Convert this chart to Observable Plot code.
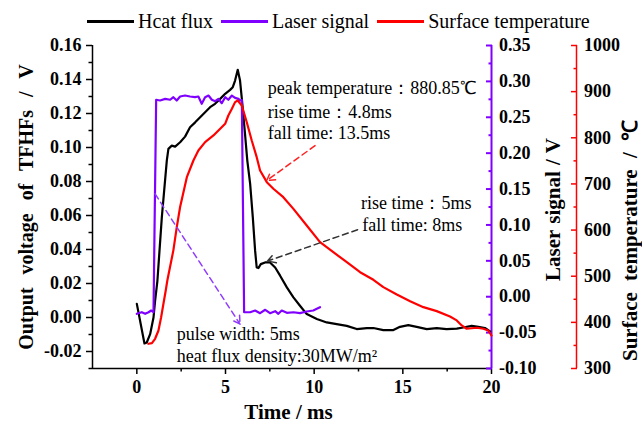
<!DOCTYPE html>
<html><head><meta charset="utf-8">
<script src="https://cdn.jsdelivr.net/npm/d3@7"></script>
<script src="https://cdn.jsdelivr.net/npm/@observablehq/plot@0.6"></script>
<style>
html,body{margin:0;padding:0;background:#fff;}
#wrap{width:642px;height:428px;overflow:hidden;font-family:'Liberation Serif','Times New Roman',serif;}
#legend{height:34px;box-sizing:border-box;padding-top:9px;padding-left:87px;display:flex;align-items:center;font-size:20px;color:#000;}
#legend .item{display:flex;align-items:center;margin-right:8px;height:25px;}
#legend .sw{width:47px;height:3px;margin-right:4px;}
#legend .lab{line-height:25px;white-space:nowrap;}
svg{display:block;}
</style></head><body><div id="wrap"><div id="legend"></div><div id="chart"></div></div>
<script>
// ---- data ----
const timeHeat = [0,0.43,0.56,0.75,0.94,1.03,1.16,1.41,1.69,1.78,1.97,2.16,2.44,2.72,3.0,3.29,3.57,3.85,4.13,4.41,4.70,4.98,5.26,5.41,5.54,5.69,5.82,5.95,6.10,6.23,6.39,6.54,6.67,6.76,6.86,6.99,7.23,7.51,7.80,8.08,8.46,8.83,9.2,9.58,10.15,10.71,11.27,11.84,12.4,12.97,13.34,13.9,14.47,14.84,15.31,15.78,16.35,16.91,17.47,18.04,18.41,18.88,19.26,19.63,19.92];
const heatFlux = [0.008,-0.0153,-0.0147,-0.0098,0.0,0.0098,0.0216,0.059,0.0923,0.0992,0.1011,0.1005,0.1031,0.1064,0.1119,0.1148,0.1178,0.1207,0.1237,0.1257,0.1286,0.1316,0.1339,0.1355,0.1394,0.1457,0.1394,0.1257,0.108,0.0923,0.0786,0.0589,0.0393,0.0294,0.0291,0.0314,0.0324,0.0324,0.0294,0.0246,0.0177,0.0118,0.0069,0.002,-0.0009,-0.0029,-0.0039,-0.0049,-0.0068,-0.0062,-0.0062,-0.0074,-0.0074,-0.0055,-0.0045,-0.0055,-0.0068,-0.0062,-0.0068,-0.0065,-0.0059,-0.0049,-0.0055,-0.0062,-0.0082];

const timeLaser = [0,0.28,0.47,0.66,0.81,0.94,1.09,1.31,1.60,1.88,2.06,2.25,2.44,2.72,3.00,3.28,3.47,3.66,3.85,4.04,4.23,4.42,4.60,4.79,4.98,5.16,5.36,5.54,5.73,5.82,5.92,6.05,6.39,6.67,6.95,7.24,7.51,7.80,7.98,8.17,8.46,8.83,9.20,9.58,9.95,10.15,10.33];
const laserSignal = [-0.0238,-0.0216,-0.0238,-0.0216,-0.0192,-0.0216,0.2744,0.2734,0.2757,0.2744,0.2780,0.2734,0.2789,0.2803,0.2789,0.2780,0.2789,0.2688,0.2780,0.2803,0.2744,0.2724,0.2757,0.2696,0.2780,0.2744,0.2803,0.2771,0.2757,0.2734,0.2740,-0.0216,-0.0216,-0.0192,-0.0229,-0.0182,-0.0229,-0.0201,-0.0238,-0.0192,-0.0224,-0.0216,-0.0229,-0.0206,-0.0192,-0.0168,-0.0146];

const timeTemp = [0.65,0.85,1.03,1.22,1.37,1.5,1.63,1.72,2.06,2.25,2.44,2.82,3.19,3.47,3.85,4.32,4.70,4.98,5.16,5.36,5.54,5.69,5.92,6.20,6.48,6.76,6.95,7.33,7.7,8.26,8.83,9.58,10.33,11.08,11.84,12.59,13.34,13.9,14.66,15.41,16.16,16.91,17.66,18.04,18.32,18.6,19.17,19.54,19.82,20];
const surfaceTemp = [353.6,355,364.4,382.4,411.2,440.3,469.1,490.8,556,606,650,714.6,750.8,772.5,790.5,805,819.5,830.3,848.3,862.8,877.3,880.85,870,833.8,794.2,758,729,703.8,689.5,671.3,646,610,573.8,552.1,530.4,508.7,492.2,476.3,460.4,445.9,433,424.3,412.8,404.2,393.3,386.1,388.3,386.1,382.4,371.5];

const seriesNames = ["Hcat flux", "Laser signal", "Surface temperature"];
const seriesColors = ["#000000", "#8000ff", "#ff0000"];

const xTicks = [0, 5, 10, 15, 20];
const xMinor = [2.5, 7.5, 12.5, 17.5];
const leftTicks = [-0.02, 0, 0.02, 0.04, 0.06, 0.08, 0.10, 0.12, 0.14, 0.16];
const leftMinor = [-0.03, -0.01, 0.01, 0.03, 0.05, 0.07, 0.09, 0.11, 0.13, 0.15];
const laserTicks = [-0.10, -0.05, 0, 0.05, 0.10, 0.15, 0.20, 0.25, 0.30, 0.35];
const laserMinor = [-0.075, -0.025, 0.025, 0.075, 0.125, 0.175, 0.225, 0.275, 0.325];
const tempTicks = [300, 400, 500, 600, 700, 800, 900, 1000];
const tempMinor = [350, 450, 550, 650, 750, 850, 950];

const xTitle = "Time / ms";
const yTitleLeft = "Output voltage of TFHFs / V";
const yTitleLaser = "Laser signal / V";
const yTitleTemp = "Surface temperature / ℃";

const annoText = ["peak temperature：880.85℃", "rise time：4.8ms", "fall time: 13.5ms", "rise time：5ms", "fall time: 8ms", "pulse width: 5ms", "heat flux density:30MW/m²"];
const annoX = [7.38, 7.38, 7.38, 12.64, 12.71, 2.25, 2.25];
const annoY = [0.1347, 0.1207, 0.1082, 0.0671, 0.054, -0.0098, -0.0226];

const arrowX1 = [10.05, 12.45, 1.03];
const arrowY1 = [0.1011, 0.0516, 0.0727];
const arrowX2 = [7.32, 7.37, 5.82];
const arrowY2 = [0.0805, 0.0332, -0.0039];
const arrowColors = ["#ff2020", "#333333", "#8f3cff"];

// ---- build ----
const FONT = "'Liberation Serif','Times New Roman',serif";
const yDomain = [-0.03, 0.16];
const laserToY = d3.scaleLinear([-0.10, 0.35], yDomain);
const tempToY = d3.scaleLinear([300, 1000], yDomain);
const r2 = v => (Math.round(v * 100) / 100).toFixed(2);

const heatData = timeHeat.map((t, i) => ({t, v: heatFlux[i]}));
const laserData = timeLaser.map((t, i) => ({t, v: laserSignal[i]}));
const tempData = timeTemp.map((t, i) => ({t, v: surfaceTemp[i]}));
const annos = annoText.map((s, i) => ({s, x: annoX[i], y: annoY[i]}));
const arrows = arrowX1.map((x, i) => ({x1: x, y1: arrowY1[i], x2: arrowX2[i], y2: arrowY2[i], c: arrowColors[i]}));

// legend
const leg = document.getElementById("legend");
seriesNames.forEach((n, i) => {
  const it = document.createElement("div"); it.className = "item";
  const sw = document.createElement("div"); sw.className = "sw"; sw.style.background = seriesColors[i];
  const lb = document.createElement("span"); lb.className = "lab"; lb.textContent = n;
  it.appendChild(sw); it.appendChild(lb); leg.appendChild(it);
});

const bold = {fontSize: 18, fontWeight: "bold"};
const title = {text: d => d, rotate: -90, textAnchor: "middle", lineAnchor: "middle", fontWeight: "bold", fill: "black"};
const plot = Plot.plot({
  width: 642, height: 394,
  marginTop: 11, marginBottom: 60, marginLeft: 92, marginRight: 151,
  x: {domain: [-2.5, 20], axis: null, label: null},
  y: {domain: yDomain, axis: null, label: null},
  style: {fontFamily: FONT, background: "white", overflow: "visible"},
  marks: [
    Plot.ruleX([-2.5], {stroke: "black", strokeWidth: 1.5}),
    Plot.ruleY([-0.03], {stroke: "black", strokeWidth: 1.5}),
    Plot.ruleX([20], {stroke: seriesColors[1], strokeWidth: 2}),
    Plot.ruleX([20], {stroke: seriesColors[2], strokeWidth: 1.5, dx: 85}),
    Plot.axisY(leftTicks, {anchor: "left", label: null, tickSize: 6, tickPadding: 5, tickFormat: r2, strokeWidth: 1.5, fill: "black", ...bold}),
    Plot.axisY(leftMinor, {anchor: "left", label: null, tickSize: 3.5, tickFormat: () => "", strokeWidth: 1.5}),
    Plot.axisX(xTicks, {anchor: "bottom", label: null, tickSize: 6, tickPadding: 6, strokeWidth: 1.5, fill: "black", ...bold}),
    Plot.axisX(xMinor, {anchor: "bottom", label: null, tickSize: 3.5, tickFormat: () => "", strokeWidth: 1.5}),
    Plot.axisY(laserTicks.map(laserToY), {anchor: "right", label: null, tickSize: -6, tickPadding: 13.5, tickFormat: v => r2(laserToY.invert(v)), stroke: seriesColors[1], fill: "black", strokeWidth: 2, ...bold}),
    Plot.axisY(laserMinor.map(laserToY), {anchor: "right", label: null, tickSize: -3.5, tickFormat: () => "", stroke: seriesColors[1], strokeWidth: 2}),
    Plot.axisY(tempTicks.map(tempToY), {anchor: "right", label: null, dx: 85, tickSize: -6, tickPadding: 13.5, tickFormat: v => String(Math.round(tempToY.invert(v))), stroke: seriesColors[2], fill: "black", strokeWidth: 1.5, ...bold}),
    Plot.axisY(tempMinor.map(tempToY), {anchor: "right", label: null, dx: 85, tickSize: -3.5, tickFormat: () => "", stroke: seriesColors[2], strokeWidth: 1.5}),
    Plot.line(heatData, {x: "t", y: "v", stroke: seriesColors[0], strokeWidth: 2.2}),
    Plot.line(laserData, {x: "t", y: d => laserToY(d.v), stroke: seriesColors[1], strokeWidth: 2.2}),
    Plot.line(tempData, {x: "t", y: d => tempToY(d.v), stroke: seriesColors[2], strokeWidth: 2.2}),
    Plot.arrow(arrows, {x1: "x1", y1: "y1", x2: "x2", y2: "y2", stroke: "c", strokeWidth: 1.5, strokeDasharray: "6,4", headLength: 9}),
    Plot.text(annos, {x: "x", y: "y", text: "s", textAnchor: "start", fontSize: 18, fill: "black"}),
    Plot.text([yTitleLeft], {frameAnchor: "left", dx: -65.5, fontSize: 20, ...title}),
    Plot.text([yTitleLaser], {frameAnchor: "right", dx: 62, dy: 2.5, fontSize: 21, ...title}),
    Plot.text([yTitleTemp], {frameAnchor: "right", dx: 139, dy: 33.5, fontSize: 21, ...title}),
    Plot.text([xTitle], {frameAnchor: "bottom", text: d => d, textAnchor: "middle", dx: -3.5, dy: 50, fontSize: 21, fontWeight: "bold", fill: "black"})
  ]
});
d3.select(plot).selectAll("text").each(function() {
  const s = this.textContent;
  if (s === yTitleLeft) this.style.wordSpacing = "8px";
  if (s === yTitleLaser) this.style.wordSpacing = "1px";
  if (s === yTitleTemp) this.style.wordSpacing = "6px";
});
document.getElementById("chart").appendChild(plot);
</script>
</body></html>
